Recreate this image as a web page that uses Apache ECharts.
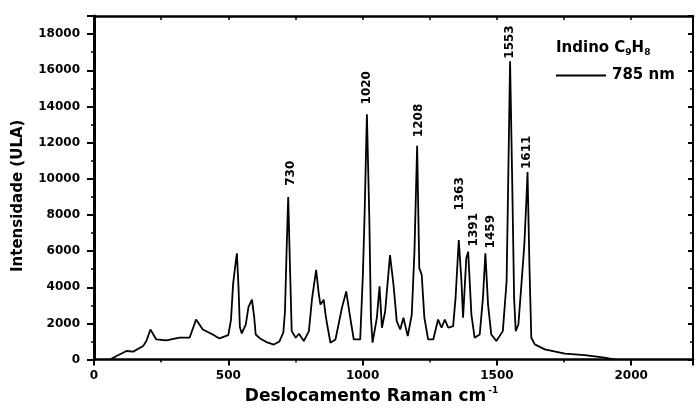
<!DOCTYPE html>
<html>
<head>
    <meta charset="utf-8" />
    <title>Indino C9H8 - Raman</title>
    <script src="https://cdn.jsdelivr.net/npm/echarts@6/dist/echarts.min.js"></script>
    <style>
        html, body { margin: 0; padding: 0; background: #fff; }
        #div_echart { width: 696px; height: 410px; }
    </style>
</head>
<body>
    <div id="div_echart"></div>
    <script>
        // espectro (cm-1, intensidade)
        var wavenumber = [60, 84, 121, 146, 183, 195, 210, 232, 269, 319, 356, 362, 380, 405, 442, 467,
            500, 510, 518, 526, 532, 538, 543, 550, 565, 575, 588, 596, 602, 620, 645, 670, 690,
            705, 711, 717, 723, 729, 736, 751, 763, 781, 800, 812, 827, 837, 843, 855, 862, 868,
            880, 899, 923, 939, 954, 967, 991, 1001, 1007, 1016, 1025, 1031, 1037, 1053, 1063, 1072,
            1084, 1102, 1115, 1127, 1140, 1152, 1168, 1183, 1193, 1203, 1211, 1220, 1230, 1244, 1263,
            1281, 1294, 1306, 1319, 1337, 1346, 1358, 1368, 1374, 1386, 1393, 1405, 1417, 1436, 1448,
            1457, 1467, 1479, 1498, 1522, 1536, 1542, 1549, 1557, 1564, 1570, 1580, 1592, 1602, 1610,
            1614, 1621, 1628, 1641, 1678, 1753, 1827, 1901, 1940];
        var intensity = [0, 200, 475, 440, 750, 1030, 1665, 1115, 1060, 1210, 1210, 1300, 2215, 1665, 1390, 1170,
            1350, 2200, 4200, 5200, 5880, 4000, 1800, 1450, 1940, 2900, 3315, 2400, 1390, 1150, 950, 830, 1000,
            1500, 2675, 6000, 8995, 5500, 1575, 1210, 1430, 1025, 1575, 3405, 4960, 3600, 3040, 3315, 2500, 1940,
            935, 1115, 2860, 3770, 2310, 1115, 1115, 4690, 7800, 13570, 7800, 2310, 935, 2310, 4050, 1760,
            2675, 5785, 4140, 2125, 1665, 2310, 1300, 2490, 5970, 11830, 5055, 4690, 2310, 1115, 1115,
            2215, 1760, 2215, 1760, 1850, 3400, 6610, 4320, 2310, 5600, 5970, 2490, 1210, 1390, 3400,
            5880, 3040, 1390, 1025, 1575, 4320, 9820, 16500, 9820, 3400, 1575, 1940, 4320, 6335, 8900,
            10370, 5240, 1210, 840, 565, 330, 250, 110, 0];

        // rótulos dos picos
        var peakText = ['730', '1020', '1208', '1363', '1391', '1459', '1553', '1611'];
        var peakLabelX = [733, 1017, 1209, 1363, 1413, 1479, 1549, 1613];
        var peakLabelY = [9610, 14110, 12300, 8240, 6260, 6150, 16640, 10540];

        var xTicks = [0, 500, 1000, 1500, 2000];
        var yTicks = [0, 2000, 4000, 6000, 8000, 10000, 12000, 14000, 16000, 18000];

        var fontMain = 'DejaVu Sans';

        function EchartInit() {
            var dom = document.getElementById("div_echart");
            var mychart = echarts.init(dom);

            var spectrum = wavenumber.map(function (w, i) { return [w, intensity[i]]; });
            var peaks = peakLabelX.map(function (x, i) {
                return { value: [x, peakLabelY[i]], name: peakText[i] };
            });

            var option = {
                animation: false,
                backgroundColor: '#fff',
                title: {
                    text: '{a|Indino C}{s|9}{a|H}{s|8}',
                    left: 551,
                    top: 34,
                    textStyle: {
                        rich: {
                            a: { fontFamily: fontMain, fontWeight: 'bold', fontSize: 15, color: '#000', lineHeight: 18 },
                            s: { fontFamily: fontMain, fontWeight: 'bold', fontSize: 9, color: '#000', lineHeight: 18, verticalAlign: 'bottom', padding: [6, 0, 0, 0] }
                        }
                    }
                },
                legend: {
                    data: [{ name: '785 nm', icon: 'rect' }],
                    left: 551,
                    top: 63,
                    itemWidth: 50,
                    itemHeight: 2,
                    itemStyle: { color: '#000' },
                    textStyle: { fontFamily: fontMain, fontWeight: 'bold', fontSize: 15, color: '#000', padding: [0, 0, 0, 1] }
                },
                grid: {
                    left: 94,
                    right: 1,
                    top: 16,
                    bottom: 48
                },
                xAxis: [
                    {
                        type: 'value',
                        min: 0,
                        max: 2230,
                        interval: 500,
                        position: 'bottom',
                        name: '{a|Deslocamento Raman cm}{s|-1}',
                        nameLocation: 'middle',
                        nameGap: 25,
                        nameTextStyle: {
                            padding: [0, 44, 0, 0],
                            rich: {
                                a: { fontFamily: fontMain, fontWeight: 'bold', fontSize: 17, color: '#000', lineHeight: 20 },
                                s: { fontFamily: fontMain, fontWeight: 'bold', fontSize: 9, color: '#000', lineHeight: 20, verticalAlign: 'top', padding: [0, 0, 8, 2] }
                            }
                        },
                        axisLine: { show: true, onZero: false, lineStyle: { color: '#000', width: 2.5 } },
                        axisTick: { show: true, length: 6, lineStyle: { color: '#000', width: 2 } },
                        minorTick: { show: true, splitNumber: 2, length: 3, lineStyle: { color: '#000', width: 1.5 } },
                        axisLabel: {
                            margin: 10,
                            color: '#000',
                            fontFamily: fontMain,
                            fontWeight: 'bold',
                            fontSize: 12,
                            formatter: function (v) { return xTicks.indexOf(v) >= 0 ? String(v) : ''; }
                        },
                        splitLine: { show: false }
                    },
                    {
                        type: 'value',
                        min: 0,
                        max: 2230,
                        interval: 250,
                        position: 'top',
                        axisLine: { show: true, onZero: false, lineStyle: { color: '#000', width: 2.5 } },
                        axisTick: { show: true, inside: true, length: 4, lineStyle: { color: '#000', width: 1.5 } },
                        axisLabel: { show: false },
                        splitLine: { show: false }
                    }
                ],
                yAxis: [
                    {
                        type: 'value',
                        min: 0,
                        max: 19000,
                        interval: 2000,
                        position: 'left',
                        name: 'Intensidade (ULA)',
                        nameLocation: 'middle',
                        nameGap: 68,
                        nameTextStyle: {
                            fontFamily: fontMain,
                            fontWeight: 'bold',
                            fontSize: 15,
                            color: '#000',
                            padding: [0, 16, 0, 0]
                        },
                        axisLine: { show: true, onZero: false, lineStyle: { color: '#000', width: 3 } },
                        axisTick: { show: true, length: 7, lineStyle: { color: '#000', width: 2 } },
                        minorTick: { show: true, splitNumber: 2, length: 3, lineStyle: { color: '#000', width: 1.5 } },
                        axisLabel: {
                            margin: 14,
                            color: '#000',
                            fontFamily: fontMain,
                            fontWeight: 'bold',
                            fontSize: 12,
                            formatter: function (v) { return yTicks.indexOf(v) >= 0 ? String(v) : ''; }
                        },
                        splitLine: { show: false }
                    },
                    {
                        type: 'value',
                        min: 0,
                        max: 19000,
                        interval: 2000,
                        position: 'right',
                        axisLine: { show: true, onZero: false, lineStyle: { color: '#000', width: 2 } },
                        axisTick: { show: true, inside: true, length: 5, lineStyle: { color: '#000', width: 2 } },
                        minorTick: { show: true, splitNumber: 2, length: 3, lineStyle: { color: '#000', width: 1.5 } },
                        axisLabel: { show: false },
                        splitLine: { show: false }
                    }
                ],
                series: [
                    {
                        name: '785 nm',
                        type: 'line',
                        xAxisIndex: 0,
                        yAxisIndex: 0,
                        symbol: 'none',
                        smooth: false,
                        lineStyle: { color: '#000', width: 1.8 },
                        itemStyle: { color: '#000' },
                        data: spectrum
                    },
                    {
                        name: 'picos',
                        type: 'scatter',
                        xAxisIndex: 0,
                        yAxisIndex: 0,
                        symbolSize: 0,
                        silent: true,
                        itemStyle: { color: '#000', opacity: 1 },
                        label: {
                            show: true,
                            position: 'inside',
                            formatter: '{b}',
                            rotate: 90,
                            align: 'left',
                            verticalAlign: 'middle',
                            color: '#000',
                            textBorderWidth: 0,
                            fontFamily: fontMain,
                            fontWeight: 'bold',
                            fontSize: 12
                        },
                        data: peaks
                    }
                ]
            };

            mychart.setOption(option, true);
        }

        EchartInit();
    </script>
</body>
</html>
